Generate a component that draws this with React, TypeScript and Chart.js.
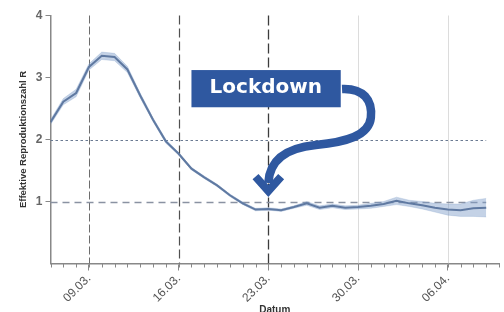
import React, { useEffect, useRef } from 'react';
import { Chart, registerables } from 'chart.js';

Chart.register(...registerables);

// ---- data ----
const dates = [
  '06.03.', '07.03.', '08.03.', '09.03.', '10.03.', '11.03.', '12.03.', '13.03.', '14.03.', '15.03.',
  '16.03.', '17.03.', '18.03.', '19.03.', '20.03.', '21.03.', '22.03.', '23.03.', '24.03.', '25.03.',
  '26.03.', '27.03.', '28.03.', '29.03.', '30.03.', '31.03.', '01.04.', '02.04.', '03.04.', '04.04.',
  '05.04.', '06.04.', '07.04.', '08.04.', '09.04.',
];
const rValues = [
  2.28, 2.61, 2.75, 3.17, 3.35, 3.33, 3.13, 2.71, 2.32, 1.97,
  1.77, 1.53, 1.39, 1.26, 1.10, 0.97, 0.87, 0.88, 0.86, 0.91,
  0.97, 0.90, 0.93, 0.90, 0.91, 0.93, 0.96, 1.01, 0.97, 0.94,
  0.90, 0.87, 0.86, 0.89, 0.90,
];
const rUpper = [
  2.32, 2.66, 2.81, 3.22, 3.41, 3.39, 3.18, 2.75, 2.35, 2.00,
  1.79, 1.55, 1.41, 1.28, 1.12, 0.99, 0.89, 0.90, 0.88, 0.93,
  1.00, 0.93, 0.96, 0.93, 0.94, 0.97, 1.00, 1.07, 1.02, 1.00,
  0.97, 0.96, 0.96, 1.02, 1.05,
];
const rLower = [
  2.24, 2.56, 2.69, 3.12, 3.29, 3.27, 3.08, 2.67, 2.29, 1.94,
  1.75, 1.51, 1.37, 1.24, 1.08, 0.95, 0.85, 0.86, 0.84, 0.89,
  0.94, 0.87, 0.90, 0.87, 0.88, 0.89, 0.92, 0.95, 0.92, 0.88,
  0.83, 0.78, 0.76, 0.76, 0.75,
];
const tickDates = ['09.03.', '16.03.', '23.03.', '30.03.', '06.04.'];
const yTickValues = [1, 2, 3, 4];
const lockdownLabel = 'Lockdown';
const yTitle = 'Effektive Reproduktionszahl R';
const xTitle = 'Datum';

// annotation geometry in data units (day index, R)
const boxCorners = [[11.0, 3.12], [22.65, 2.52]];
const boxTextPos = [16.8, 2.83];
const arrowPath = [
  [22.75, 2.815],
  [24.4, 2.83], [25.15, 2.64], [25.0, 2.35],
  [24.85, 2.06], [23.05, 1.96], [20.7, 1.91],
  [18.35, 1.86], [17.1, 1.67], [17.0, 1.3],
];
const arrowHead = [[16.0, 1.40], [17.0, 1.17], [18.0, 1.40]];

const idx = (d: string) => dates.indexOf(d);

const refLinesPlugin = {
  id: 'refLines',
  beforeDatasetsDraw(chart: any) {
    const { ctx, chartArea, scales } = chart;
    const xs = scales.x, ys = scales.y;
    ctx.save();
    const vstyles: Record<string, any> = {
      '09.03.': { c: '#6d6d6d', w: 1, d: [8, 3] },
      '16.03.': { c: '#505050', w: 1.2, d: [9, 4] },
      '23.03.': { c: '#3c3c3c', w: 1.3, d: [10, 4] },
      '30.03.': { c: '#dcdcdc', w: 1, d: [] },
      '06.04.': { c: '#dcdcdc', w: 1, d: [] },
    };
    tickDates.forEach((t) => {
      const s = vstyles[t];
      const x = Math.round(xs.getPixelForValue(idx(t))) + 0.5;
      ctx.beginPath();
      ctx.strokeStyle = s.c;
      ctx.lineWidth = s.w;
      ctx.setLineDash(s.d);
      ctx.moveTo(x, chartArea.top);
      ctx.lineTo(x, chartArea.bottom);
      ctx.stroke();
    });
    const xEnd = xs.getPixelForValue(dates.length - 1);
    let y = Math.round(ys.getPixelForValue(2)) + 0.5;
    ctx.beginPath();
    ctx.strokeStyle = '#6a7a92';
    ctx.lineWidth = 1.2;
    ctx.setLineDash([2.5, 2.5]);
    ctx.moveTo(chartArea.left, y);
    ctx.lineTo(xEnd, y);
    ctx.stroke();
    y = Math.round(ys.getPixelForValue(1)) + 0.5;
    ctx.beginPath();
    ctx.strokeStyle = '#8a92a2';
    ctx.lineWidth = 1.4;
    ctx.setLineDash([7, 5]);
    ctx.moveTo(chartArea.left, y);
    ctx.lineTo(xEnd, y);
    ctx.stroke();
    ctx.restore();
  },
  afterDraw(chart: any) {
    const { ctx, chartArea, scales } = chart;
    const xs = scales.x;
    ctx.save();
    ctx.strokeStyle = '#888';
    ctx.lineWidth = 1;
    for (let d = 0; d <= xs.max; d++) {
      const x = Math.round(xs.getPixelForValue(d)) + 0.5;
      ctx.beginPath();
      ctx.moveTo(x, chartArea.bottom);
      ctx.lineTo(x, chartArea.bottom + 4);
      ctx.stroke();
    }
    ctx.restore();
  },
};

const annotationPlugin = {
  id: 'lockdownAnnotation',
  afterDatasetsDraw(chart: any) {
    const { ctx, scales } = chart;
    const xs = scales.x, ys = scales.y;
    const P = (p: number[]) => [xs.getPixelForValue(p[0]), ys.getPixelForValue(p[1])];
    const blue = '#2f58a0';
    ctx.save();
    const [a, b] = boxCorners.map(P);
    ctx.fillStyle = blue;
    ctx.fillRect(a[0], a[1], b[0] - a[0], b[1] - a[1]);
    const tp = P(boxTextPos);
    ctx.fillStyle = '#ffffff';
    ctx.font = 'bold 20px "DejaVu Sans", sans-serif';
    ctx.textAlign = 'center';
    ctx.textBaseline = 'middle';
    ctx.fillText(lockdownLabel, tp[0], tp[1]);
    const pts = arrowPath.map(P);
    ctx.strokeStyle = blue;
    ctx.lineWidth = 8.5;
    ctx.lineCap = 'butt';
    ctx.setLineDash([]);
    ctx.beginPath();
    ctx.moveTo(pts[0][0], pts[0][1]);
    for (let i = 1; i + 2 < pts.length; i += 3) {
      ctx.bezierCurveTo(pts[i][0], pts[i][1], pts[i + 1][0], pts[i + 1][1], pts[i + 2][0], pts[i + 2][1]);
    }
    ctx.stroke();
    const h = arrowHead.map(P);
    ctx.lineJoin = 'miter';
    ctx.lineWidth = 8;
    ctx.beginPath();
    ctx.moveTo(h[0][0], h[0][1]);
    ctx.lineTo(h[1][0], h[1][1]);
    ctx.lineTo(h[2][0], h[2][1]);
    ctx.stroke();
    ctx.restore();
  },
};

export default function App() {
  const ref = useRef<HTMLCanvasElement>(null);
  useEffect(() => {
    if (!ref.current) return;
    const lineColor = '#475d82';
    const bandColor = 'rgba(125, 155, 200, 0.45)';
    const chart = new Chart(ref.current, {
      type: 'line',
      data: {
        datasets: [
          {
            label: 'upper',
            data: rUpper.map((v, i) => ({ x: i, y: v })),
            borderColor: 'rgba(125, 155, 200, 0.5)',
            borderWidth: 0.5,
            backgroundColor: bandColor,
            pointRadius: 0,
            fill: '+1',
          },
          {
            label: 'lower',
            data: rLower.map((v, i) => ({ x: i, y: v })),
            borderColor: 'rgba(125, 155, 200, 0.5)',
            borderWidth: 0.5,
            pointRadius: 0,
            fill: false,
          },
          {
            label: 'R',
            data: rValues.map((v, i) => ({ x: i, y: v })),
            borderColor: lineColor,
            borderWidth: 2,
            pointRadius: 0,
            fill: false,
            tension: 0,
          },
        ],
      },
      options: {
        animation: false,
        responsive: true,
        maintainAspectRatio: false,
        layout: { padding: { top: 15.5, right: 5, left: 0, bottom: 0 } },
        plugins: { legend: { display: false }, tooltip: { enabled: false } },
        scales: {
          x: {
            type: 'linear',
            min: 0,
            max: 35,
            afterBuildTicks: (scale: any) => {
              scale.ticks = tickDates.map((t) => ({ value: idx(t) }));
            },
            afterFit: (scale: any) => { scale.height = 48.5; },
            ticks: {
              autoSkip: false,
              maxRotation: 45,
              minRotation: 45,
              padding: 1,
              color: '#555',
              font: { family: '"Liberation Sans", Arial, sans-serif', size: 12 },
              callback: (v: any) => dates[v] ?? '',
            },
            grid: { drawOnChartArea: false, drawTicks: true, tickLength: 7, tickColor: '#888' },
            border: { display: true, color: '#888', width: 1.5 },
            title: {
              display: true,
              text: xTitle,
              color: '#333',
              font: { family: '"Liberation Sans", Arial, sans-serif', size: 10, weight: 'bold' },
              padding: { top: 0, bottom: -4 },
            },
          },
          y: {
            min: 0,
            max: 4,
            afterBuildTicks: (scale: any) => {
              scale.ticks = yTickValues.map((v) => ({ value: v }));
            },
            afterFit: (scale: any) => { scale.width = 50.5; },
            ticks: {
              padding: 3,
              color: '#666',
              font: { family: '"Liberation Sans", Arial, sans-serif', size: 12, weight: 'bold' },
              callback: (v: any) => String(v),
            },
            grid: { drawOnChartArea: false, drawTicks: true, tickLength: 5, tickColor: '#888' },
            border: { display: true, color: '#888', width: 1.5 },
            title: {
              display: true,
              text: yTitle,
              color: '#333',
              font: { family: '"Liberation Sans", Arial, sans-serif', size: 9.5, weight: 'bold' },
              padding: { top: 18, bottom: 0 },
            },
          },
        },
      },
      plugins: [refLinesPlugin, annotationPlugin],
    } as any);
    return () => chart.destroy();
  }, []);
  return (
    <div style={{ position: 'fixed', left: 0, top: 0, width: 504, height: 312, background: '#fff' }}>
      <canvas ref={ref} />
    </div>
  );
}
